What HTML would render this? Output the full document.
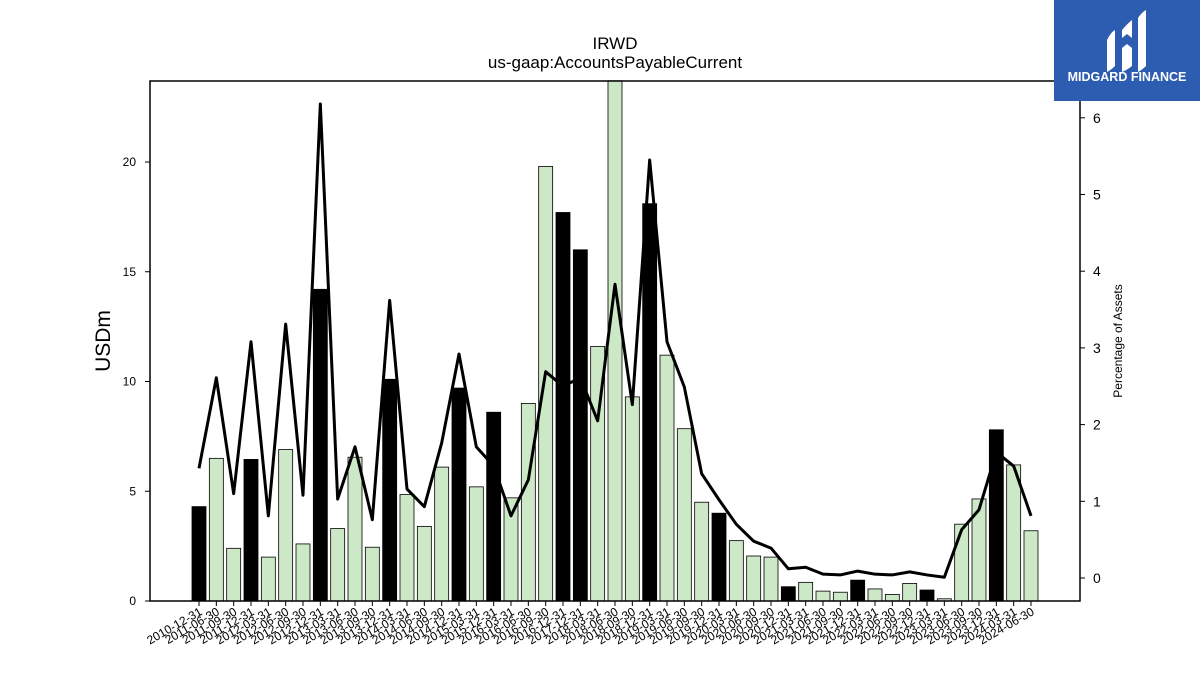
<!DOCTYPE html>
<html><head><meta charset="utf-8">
<style>
body{margin:0;background:#fff;font-family:"Liberation Sans",sans-serif;}
svg{display:block}
</style></head>
<body>
<svg id="chart" width="1200" height="675" viewBox="0 0 1200 675">
<text x="615" y="49" font-size="17" text-anchor="middle">IRWD</text>
<text x="615" y="68" font-size="17" text-anchor="middle">us-gaap:AccountsPayableCurrent</text>
<text transform="translate(110,341) rotate(-90)" font-size="21" text-anchor="middle">USDm</text>
<text transform="translate(1122,341) rotate(-90)" font-size="12" text-anchor="middle">Percentage of Assets</text>
<g id="bars"></g>
<g id="line"></g>
<g id="axes"></g>
<rect x="150" y="81" width="930" height="520" fill="none" stroke="#000" stroke-width="1.5"/>
<g>
<rect x="1054" y="0" width="146" height="101" fill="#2d5db0"/>
<path d="M1107,40 q4,-8 8,-10 l0,36 q-4,4 -8,6 z M1122,30 q5,-6 10,-10 l0,18 -5,-4 -5,4 z M1122,48 l5,-4 5,4 0,18 q-5,4 -10,6 z M1138,18 q4,-6 8,-8 l0,56 q-4,4 -8,6 z" fill="#fff"/>
<text x="1127" y="81" font-size="12.5" font-weight="bold" fill="#fff" text-anchor="middle">MIDGARD FINANCE</text>
</g>
</svg>
<script>
const categories=["2010-12-31","2011-06-30","2011-09-30","2011-12-31","2012-03-31","2012-06-30","2012-09-30","2012-12-31","2013-03-31","2013-06-30","2013-09-30","2013-12-31","2014-03-31","2014-06-30","2014-09-30","2014-12-31","2015-03-31","2015-12-31","2016-03-31","2016-06-30","2016-09-30","2016-12-31","2017-12-31","2018-03-31","2018-06-30","2018-09-30","2018-12-31","2019-03-31","2019-06-30","2019-09-30","2019-12-31","2020-03-31","2020-06-30","2020-09-30","2020-12-31","2021-03-31","2021-06-30","2021-09-30","2021-12-31","2022-03-31","2022-06-30","2022-09-30","2022-12-31","2023-03-31","2023-06-30","2023-09-30","2023-12-31","2024-03-31","2024-06-30"];
const values=[4.3,6.5,2.4,6.45,2.0,6.9,2.6,14.2,3.3,6.55,2.45,10.1,4.85,3.4,6.1,9.7,5.2,8.6,4.7,9.0,19.8,17.7,16.0,11.6,23.7,9.3,18.1,11.2,7.85,4.5,4.0,2.75,2.05,2.0,0.65,0.85,0.45,0.4,0.95,0.55,0.3,0.8,0.5,0.1,3.5,4.65,7.8,6.2,3.2];
const pctAssets=[1.43,2.61,1.10,3.08,0.81,3.31,1.08,6.18,1.03,1.71,0.76,3.62,1.16,0.93,1.76,2.92,1.71,1.46,0.81,1.28,2.69,2.50,2.61,2.05,3.83,2.26,5.45,3.08,2.49,1.36,1.02,0.70,0.48,0.39,0.12,0.14,0.05,0.04,0.09,0.05,0.04,0.08,0.04,0.01,0.63,0.89,1.64,1.46,0.81];
const leftTicks=[0,5,10,15,20];
const rightTicks=[0,1,2,3,4,5,6];
const NS="http://www.w3.org/2000/svg";
const xPos=i=>199+i*(1031-199)/(categories.length-1);
const yL=v=>601-v*21.95;
const yR=v=>578-v*76.7;
function mk(tag,attrs,parent){const e=document.createElementNS(NS,tag);for(const k in attrs)e.setAttribute(k,attrs[k]);parent.appendChild(e);return e;}
const gb=document.getElementById('bars'),gl=document.getElementById('line'),ga=document.getElementById('axes');
values.forEach((v,i)=>{
 const annual=categories[i].endsWith('12-31');
 const r=mk('rect',{x:xPos(i)-7,y:yL(v),width:14,height:601-yL(v),fill:annual?'#000':'#cce8c6',stroke:'#000','stroke-width':0.8},gb);
 
 
 const t=mk('line',{x1:xPos(i),x2:xPos(i),y1:601,y2:606,stroke:'#000'},ga);
 
 
 const lb=mk('text',{transform:`translate(${xPos(i)+4},${614}) rotate(-30)`,'font-size':12,'text-anchor':'end'},ga);
 lb.textContent=categories[i];
 
 
});
const pl=mk('polyline',{points:pctAssets.map((v,i)=>xPos(i)+','+yR(v)).join(' '),fill:'none',stroke:'#000','stroke-width':3,'stroke-linejoin':'round'},gl);


leftTicks.forEach(v=>{
 const t=mk('line',{x1:145,x2:150,y1:yL(v),y2:yL(v),stroke:'#000'},ga);
 
 
 const l=mk('text',{x:136,y:yL(v)+4,'font-size':12,'text-anchor':'end'},ga);
 l.textContent=v;
 
 
});
rightTicks.forEach(v=>{
 const t=mk('line',{x1:1080,x2:1085,y1:yR(v),y2:yR(v),stroke:'#000'},ga);
 
 
 const l=mk('text',{x:1093,y:yR(v)+5,'font-size':14},ga);
 l.textContent=v;
 
 
});
</script>
</body></html>
